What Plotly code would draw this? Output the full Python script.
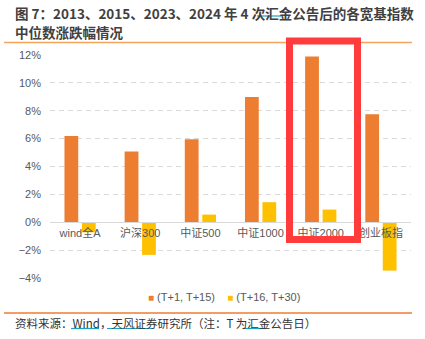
import plotly.graph_objects as go

categories = ["wind全A", "沪深300", "中证500", "中证1000", "中证2000", "创业板指"]
series_names = ["(T+1, T+15)", "(T+16, T+30)"]
values_t1_t15 = [6.18, 5.08, 5.96, 8.98, 11.9, 7.74]
values_t16_t30 = [-0.72, -2.34, 0.55, 1.44, 0.91, -3.47]
colors = ["#ED7D31", "#FFC000"]
y_ticks = [-4, -2, 0, 2, 4, 6, 8, 10, 12]

W, H = 425, 339
L, R, T, B = 50, 14, 55, 61
PW, PH = W - L - R, H - T - B

def px(x):
    return (x - L) / PW

def py(y):
    return (H - B - y) / PH

FONT = "Liberation Sans, Noto Sans CJK SC, sans-serif"
CJK = "Noto Sans CJK SC, sans-serif"

fig = go.Figure()
for name, vals, col in zip(series_names, [values_t1_t15, values_t16_t30], colors):
    fig.add_trace(go.Bar(x=categories, y=vals, name=name, showlegend=False,
                         marker=dict(color=col, line=dict(width=0))))

fig.update_layout(
    width=W, height=H,
    margin=dict(l=L, r=R, t=T, b=B, pad=0),
    paper_bgcolor="white", plot_bgcolor="white",
    barmode="group", bargap=0.42, bargroupgap=0.21,
    font=dict(family=FONT, size=11, color="#595959"),
    showlegend=False,
    xaxis=dict(anchor="free", position=0.25, showline=True, linecolor="#D9D9D9", linewidth=1,
               ticks="", showgrid=False, ticklabelstandoff=1,
               tickfont=dict(family=FONT, size=11, color="#595959")),
    yaxis=dict(range=[-4, 12], tickvals=y_ticks, ticktext=[f"{v}%".replace("-", "−") for v in y_ticks],
               showgrid=True, gridcolor="#DADADA", griddash="5px,4px", gridwidth=1,
               zeroline=True, zerolinecolor="#D9D9D9", zerolinewidth=1,
               showline=False, ticks="", ticklabelstandoff=8,
               tickfont=dict(size=11, color="#595959")),
)

# legend (drawn as text with coloured squares)
legend_parts = []
for name, col in zip(series_names, colors):
    legend_parts.append(f'<span style="color:{col};font-size:10px">■</span> {name}')
fig.add_annotation(text="    ".join(legend_parts),
                   xref="paper", yref="paper", x=px(224), y=py(297), xanchor="center", yanchor="middle",
                   showarrow=False, font=dict(family=FONT, size=11, color="#595959"))

# title
fig.add_annotation(text="<b>图 7：2013、2015、2023、2024 年 4 次汇金公告后的各宽基指数</b>",
                   xref="paper", yref="paper", x=px(13), y=py(13), xanchor="left", yanchor="middle",
                   showarrow=False, font=dict(family=CJK, size=13.5, color="#404040"))
fig.add_annotation(text="<b>中位数涨跌幅情况</b>",
                   xref="paper", yref="paper", x=px(13), y=py(32), xanchor="left", yanchor="middle",
                   showarrow=False, font=dict(family=CJK, size=13.5, color="#404040"))
# footer
fig.add_annotation(text="资料来源：Wind，天风证券研究所（注：T 为汇金公告日）",
                   xref="paper", yref="paper", x=px(13), y=py(323), xanchor="left", yanchor="middle",
                   showarrow=False, font=dict(family=CJK, size=11.5, color="#333333"))

# title / footer rules
fig.add_shape(type="line", xref="paper", yref="paper", x0=px(4), x1=px(412), y0=py(42.5), y1=py(42.5),
              line=dict(color="#F5A55A", width=1.5))
fig.add_shape(type="line", xref="paper", yref="paper", x0=px(4), x1=px(412), y0=py(313), y1=py(313),
              line=dict(color="#ED7D31", width=1.5))

# cyan link underlines
for x0, x1, y in [(257, 281, 16), (71, 99, 328.5), (107, 153, 328.5), (243, 266, 328.5)]:
    fig.add_shape(type="line", xref="paper", yref="paper", x0=px(x0), x1=px(x1), y0=py(y), y1=py(y),
                  line=dict(color="#1BA1C4", width=1.2))

# red highlight box
fig.add_shape(type="rect", xref="paper", yref="paper", x0=px(289.5), x1=px(357.5), y0=py(239.5), y1=py(41),
              line=dict(color="#FF3B3B", width=7), fillcolor="rgba(0,0,0,0)")

fig.write_html("out.html")
